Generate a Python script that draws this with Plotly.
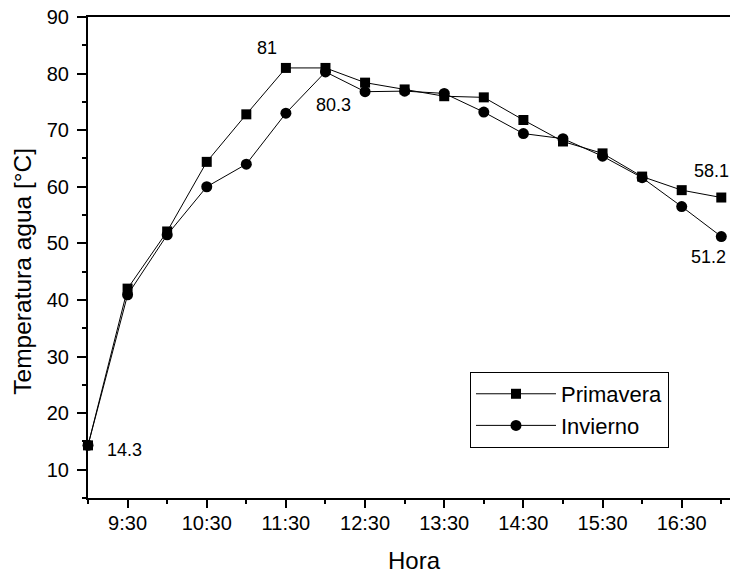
import plotly.graph_objects as go

# ---- data ----
times = ["9:00", "9:30", "10:00", "10:30", "11:00", "11:30", "12:00", "12:30", "13:00",
         "13:30", "14:00", "14:30", "15:00", "15:30", "16:00", "16:30", "17:00"]
primavera = [14.3, 42.0, 52.1, 64.4, 72.8, 81.0, 81.0, 78.4, 77.2,
             76.0, 75.8, 71.8, 68.0, 65.9, 61.8, 59.4, 58.1]
invierno = [14.3, 40.9, 51.5, 60.0, 64.0, 73.0, 80.3, 76.8, 76.9,
            76.5, 73.2, 69.4, 68.5, 65.4, 61.6, 56.5, 51.2]
tick_labels = ["9:30", "10:30", "11:30", "12:30", "13:30", "14:30", "15:30", "16:30"]
minor_tick_labels = ["9:00", "10:00", "11:00", "12:00", "13:00", "14:00", "15:00", "16:00", "17:00"]
series_names = ["Primavera", "Invierno"]
value_labels = [("81", "11:30", 81.0), ("80.3", "12:00", 80.3), ("58.1", "17:00", 58.1),
                ("51.2", "17:00", 51.2), ("14.3", "9:00", 14.3)]


def hours(t):
    h, m = t.split(":")
    return int(h) + int(m) / 60.0


x = [hours(t) for t in times]
FONT = "Liberation Sans, Arial, sans-serif"

fig = go.Figure()
fig.add_trace(go.Scatter(
    x=x, y=primavera, name=series_names[0], mode="lines+markers",
    line=dict(color="black", width=1),
    marker=dict(symbol="square", size=10, color="black"),
    cliponaxis=False))
fig.add_trace(go.Scatter(
    x=x, y=invierno, name=series_names[1], mode="lines+markers",
    line=dict(color="black", width=1),
    marker=dict(symbol="circle", size=11, color="black"),
    cliponaxis=False))

shifts = {"81": (-19, 20), "80.3": (8, -33), "58.1": (-10, 27), "51.2": (-13, -20), "14.3": (36, -5)}
for txt, t, v in value_labels:
    dx, dy = shifts[txt]
    fig.add_annotation(x=hours(t), y=v, text=txt, showarrow=False,
                       xshift=dx, yshift=dy, font=dict(family=FONT, size=18, color="black"))

fig.add_annotation(text="Hora", xref="paper", yref="paper", x=0.509, y=-0.130,
                   showarrow=False, xanchor="center", yanchor="middle",
                   font=dict(family=FONT, size=24, color="black"))
fig.add_annotation(text="Temperatura agua [°C]", xref="paper", yref="paper", x=-0.1017, y=0.472,
                   showarrow=False, xanchor="center", yanchor="middle", textangle=-90,
                   font=dict(family=FONT, size=24.5, color="black"))

fig.update_layout(
    width=730, height=574,
    margin=dict(l=88, r=0, t=17, b=76),
    paper_bgcolor="white", plot_bgcolor="white",
    showlegend=True,
    legend=dict(x=0.595, y=0.262, xanchor="left", yanchor="top",
                bordercolor="black", borderwidth=1, bgcolor="white",
                font=dict(family=FONT, size=22, color="black"),
                itemwidth=80, tracegroupgap=0),
    xaxis=dict(range=[9, 17.11], showgrid=False, zeroline=False,
               showline=True, linecolor="black", linewidth=2, mirror=True,
               tickmode="array", tickvals=[hours(t) for t in tick_labels], ticktext=tick_labels,
               ticks="outside", ticklen=8, tickwidth=1.5, tickcolor="black",
               ticklabelstandoff=-2,
               tickfont=dict(family=FONT, size=20, color="black"),
               minor=dict(tickmode="array", tickvals=[hours(t) for t in minor_tick_labels],
                          ticks="outside", ticklen=4, tickwidth=1.5, tickcolor="black")),
    yaxis=dict(range=[5, 90], showgrid=False, zeroline=False,
               showline=True, linecolor="black", linewidth=2,
               tick0=0, dtick=10, ticks="outside", ticklen=9, tickwidth=1.5, tickcolor="black",
               ticklabelstandoff=4,
               tickfont=dict(family=FONT, size=20, color="black"),
               minor=dict(dtick=5, tick0=0, ticks="outside", ticklen=4, tickwidth=1.5,
                          tickcolor="black")),
)

fig.write_html("out.html", config={"displayModeBar": False},
               post_script="document.body.style.margin='0';document.body.style.padding='0';")
